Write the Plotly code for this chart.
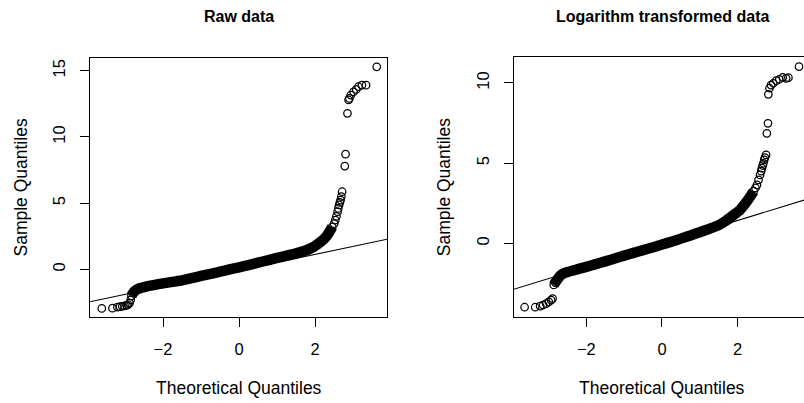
import plotly.graph_objects as go

# ---------------- data ----------------
# Raw data panel
raw_lower_x = [-3.61, -3.33, -3.20, -3.13, -3.07, -3.01, -2.96, -2.92, -2.88, -2.85]
raw_lower_y = [-2.95, -2.93, -2.85, -2.82, -2.79, -2.76, -2.72, -2.66, -2.55, -2.30]
raw_band_x = [-2.83, -2.79, -2.75, -2.70, -2.65, -2.60, -2.50, -2.40, -2.25, -2.00,
              -1.75, -1.55, -1.25, -1.00, -0.75, -0.50, -0.25, 0.00, 0.25, 0.50,
              0.75, 1.00, 1.25, 1.50, 1.75, 1.95, 2.10, 2.20, 2.30, 2.38, 2.45]
raw_band_y = [-2.00, -1.80, -1.66, -1.55, -1.47, -1.42, -1.34, -1.27, -1.19, -1.06,
              -0.95, -0.86, -0.67, -0.50, -0.34, -0.18, -0.01, 0.15, 0.32, 0.50,
              0.68, 0.86, 1.03, 1.21, 1.42, 1.68, 1.98, 2.20, 2.50, 2.85, 3.20]
raw_upper_x = [2.50, 2.53, 2.56, 2.59, 2.61, 2.63, 2.65, 2.67, 2.69, 2.71, 2.78, 2.80,
               2.85, 2.88, 2.90, 2.94, 3.01, 3.08, 3.14, 3.23, 3.34, 3.62]
raw_upper_y = [3.45, 3.72, 4.00, 4.35, 4.60, 4.86, 5.05, 5.23, 5.50, 5.86, 7.80, 8.70,
               11.78, 12.79, 12.91, 13.16, 13.41, 13.59, 13.79, 13.91, 13.91, 15.29]
raw_line = {"intercept": -0.08, "slope": 0.604}

# Logarithm transformed panel
log_lower_x = [-3.63, -3.35, -3.22, -3.14, -3.06, -2.99, -2.93, -2.89]
log_lower_y = [-3.99, -3.99, -3.92, -3.85, -3.76, -3.65, -3.55, -3.45]
log_band_x = [-2.86, -2.82, -2.78, -2.74, -2.68, -2.60, -2.50, -2.40, -2.20, -2.00,
              -1.75, -1.50, -1.25, -1.00, -0.75, -0.50, -0.25, 0.00, 0.25, 0.50,
              0.75, 1.00, 1.25, 1.50, 1.70, 1.90, 2.06, 2.20, 2.33, 2.42]
log_band_y = [-2.60, -2.45, -2.30, -2.18, -2.00, -1.88, -1.80, -1.73, -1.60, -1.47,
              -1.30, -1.13, -0.95, -0.77, -0.60, -0.43, -0.26, -0.08, 0.10, 0.29,
              0.49, 0.69, 0.90, 1.13, 1.42, 1.78, 2.08, 2.48, 2.91, 3.25]
log_upper_x = [2.47, 2.51, 2.55, 2.59, 2.62, 2.64, 2.66, 2.68, 2.70, 2.72, 2.75, 2.77,
               2.80, 2.81, 2.84, 2.88, 2.94, 3.02, 3.10, 3.19, 3.28, 3.34, 3.62]
log_upper_y = [3.45, 3.64, 3.95, 4.26, 4.50, 4.68, 4.85, 4.99, 5.20, 5.35, 5.51, 6.86,
               7.48, 9.29, 9.67, 9.87, 9.98, 10.14, 10.23, 10.35, 10.29, 10.33, 11.02]
log_line = {"intercept": -0.03, "slope": 0.725}

x_ticks = [-2, 0, 2]
raw_y_ticks = [0, 5, 10, 15]
log_y_ticks = [0, 5, 10]

panel_titles = ["Raw data", "Logarithm transformed data"]
x_title = "Theoretical Quantiles"
y_title = "Sample Quantiles"

# ---------------- figure ----------------
W, H = 804, 403
FONT = "Liberation Sans, Arial, Helvetica, sans-serif"

fig = go.Figure()


def add_panel(xa, ya, lx, ly, bx, by, ux, uy, line, xr):
    # dense band (thousands of overlapping circles) rendered as thick stroke
    fig.add_trace(go.Scatter(x=bx, y=by, mode="lines", xaxis=xa, yaxis=ya,
                             line=dict(color="black", width=10.5, shape="spline", smoothing=0.6),
                             hoverinfo="skip", showlegend=False))
    allx = lx + bx + ux
    ally = ly + by + uy
    fig.add_trace(go.Scatter(x=allx, y=ally, mode="markers", xaxis=xa, yaxis=ya,
                             marker=dict(symbol="circle-open", size=7.5, color="black",
                                         line=dict(width=1.25)),
                             showlegend=False))
    x0, x1 = xr[0] - 1, xr[1] + 1
    fig.add_trace(go.Scatter(x=[x0, x1],
                             y=[line["intercept"] + line["slope"] * x0,
                                line["intercept"] + line["slope"] * x1],
                             mode="lines", xaxis=xa, yaxis=ya,
                             line=dict(color="black", width=1.1),
                             showlegend=False))


raw_xr = [-3.92, 3.89]
raw_yr = [-3.60, 15.96]
log_xr = [-3.918, 3.752]
log_yr = [-4.58, 11.60]

add_panel("x", "y", raw_lower_x, raw_lower_y, raw_band_x, raw_band_y,
          raw_upper_x, raw_upper_y, raw_line, raw_xr)
add_panel("x2", "y2", log_lower_x, log_lower_y, log_band_x, log_band_y,
          log_upper_x, log_upper_y, log_line, log_xr)

axis_common = dict(showgrid=False, zeroline=False, showline=True, linecolor="black",
                   linewidth=1, ticks="outside", ticklen=9, tickwidth=1, tickcolor="black",
                   tickfont=dict(family=FONT, size=16.5, color="black"),
                   ticklabelstandoff=8)

fig.update_layout(
    width=W, height=H, margin=dict(l=0, r=0, t=0, b=0),
    paper_bgcolor="white", plot_bgcolor="white",
    xaxis=dict(domain=[90 / W, 387 / W], range=raw_xr, tickvals=x_ticks, mirror=True,
               anchor="y", **axis_common),
    yaxis=dict(domain=[1 - 317 / H, 1 - 58 / H], range=raw_yr, tickvals=raw_y_ticks,
               mirror=True, tickangle=-90, anchor="x", **axis_common),
    xaxis2=dict(domain=[513.7 / W, 1.0], range=log_xr, tickvals=x_ticks, mirror=True,
                anchor="y2", **axis_common),
    yaxis2=dict(domain=[1 - 316.7 / H, 1 - 57.3 / H], range=log_yr, tickvals=log_y_ticks,
                mirror=False, tickangle=-90, anchor="x2", **axis_common),
)

ann = []
for cx, t in zip([239, 662], panel_titles):
    ann.append(dict(x=cx / W, y=1 - 16 / H, xref="paper", yref="paper", text=f"<b>{t}</b>",
                    showarrow=False, xanchor="center", yanchor="middle",
                    font=dict(family=FONT, size=16, color="black")))
    ann.append(dict(x=cx / W, y=1 - 388 / H, xref="paper", yref="paper", text=x_title,
                    showarrow=False, xanchor="center", yanchor="middle",
                    font=dict(family=FONT, size=17.5, color="black")))
for cx in [20, 443.7]:
    ann.append(dict(x=cx / W, y=1 - 187.5 / H, xref="paper", yref="paper", text=y_title,
                    showarrow=False, xanchor="center", yanchor="middle", textangle=-90,
                    font=dict(family=FONT, size=17.5, color="black")))
fig.update_layout(annotations=ann)

fig.write_html("out.html")
